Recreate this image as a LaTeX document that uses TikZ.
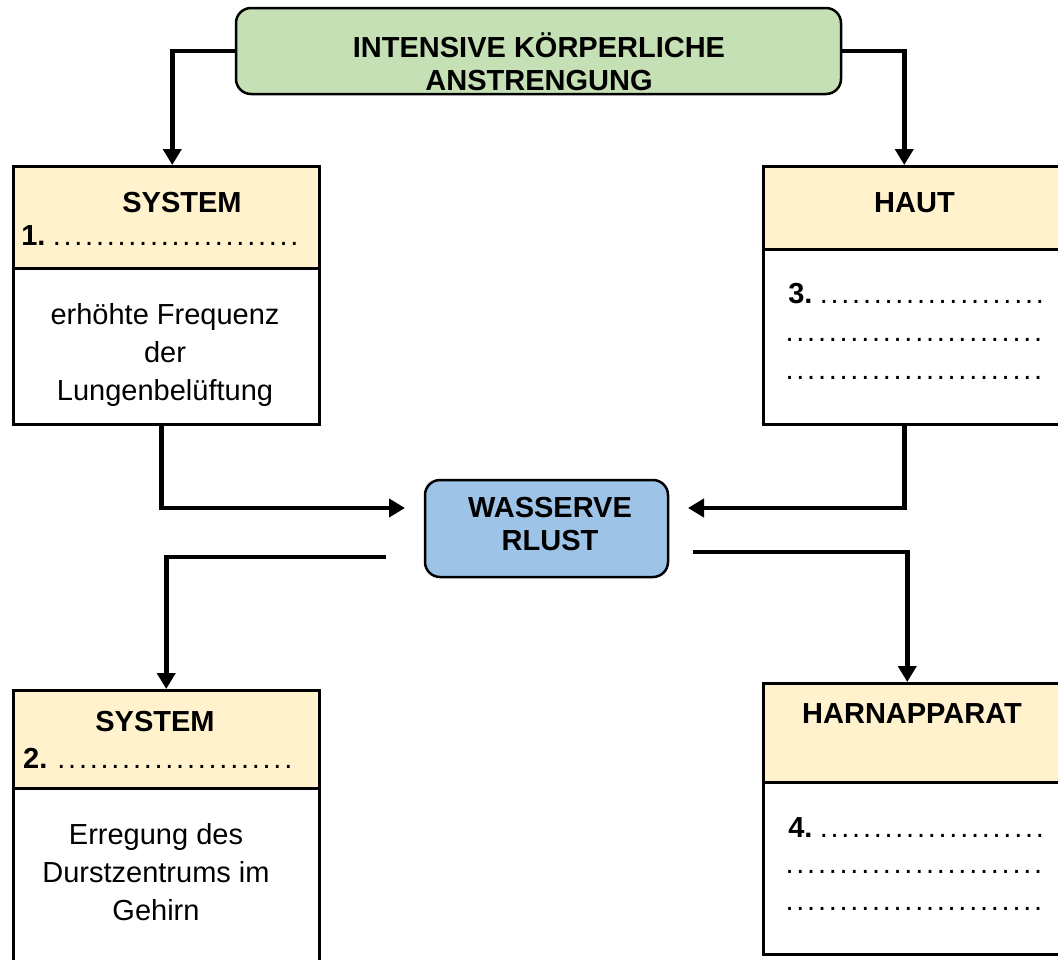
\documentclass[tikz,border=0pt]{standalone}
\usepackage{fontspec}
\setmainfont{Liberation Sans}
\usetikzlibrary{arrows.meta}

\definecolor{gruen}{HTML}{C5E0B4}
\definecolor{blau}{HTML}{9DC3E6}
\definecolor{gelb}{HTML}{FFF2CC}
\newcommand{\punkte}[1]{\foreach \i in {1,...,#1}{\makebox[10.8pt]{.}}}

\begin{document}
\begin{tikzpicture}[x=1pt, y=-1pt, line width=2.5pt,
    font=\fontsize{29}{38}\selectfont,
    fett/.style={font=\fontsize{29}{33}\selectfont\bfseries, inner sep=0pt},
    zeile/.style={anchor=base west, inner sep=0pt},
    rund/.style={draw, rounded corners=15pt, inner sep=0pt},
    kopf/.style={draw, fill=gelb, anchor=north west, minimum width=306pt, inner sep=0pt},
    feld/.style={draw, fill=white, anchor=north west, minimum width=306pt, inner sep=0pt},
    pfeil/.style={line width=4.5pt, -{Triangle[width=18pt,length=16pt]}}]
  \useasboundingbox (0,0) rectangle (1058,959);
  \clip (0,0) rectangle (1058,959);

  \node[rund, fill=gruen, minimum width=605pt, minimum height=86pt] (korper) at (538.5,51) {};
  \node[fett, anchor=base, align=center] (korpertxt) at (539,90) {INTENSIVE KÖRPERLICHE\\ANSTRENGUNG};

  \node[rund, fill=blau, minimum width=243pt, minimum height=97pt] (wasser) at (546.5,528.5) {};
  \node[fett, anchor=base, align=center] (wassertxt) at (550,550) {WASSERVE\\RLUST};

  \node[kopf, minimum height=102pt] (sys1) at (12,165) {};
  \node[feld, minimum height=156pt] (sys1b) at (12,267) {};
  \node[fett, anchor=base] (sys1txt) at (182,212) {SYSTEM};
  \node[zeile] (nr1) at (20,245) {\textbf{1.}\hspace{6pt}\punkte{23}};
  \node[anchor=base, align=center, inner sep=0pt] (lunge) at (165,400) {erhöhte Frequenz\\der\\Lungenbelüftung};

  \node[kopf, minimum width=300pt, minimum height=83pt] (haut) at (762,165) {};
  \node[feld, minimum width=300pt, minimum height=175pt] (hautb) at (762,248) {};
  \node[fett, anchor=base] (hauttxt) at (914.5,212) {HAUT};
  \node[zeile] (nr3) at (787,303) {\textbf{3.}\hspace{6pt}\punkte{21}};
  \node[zeile] (nr3b) at (783,341) {\punkte{24}};
  \node[zeile] (nr3c) at (783,379) {\punkte{24}};

  \node[kopf, minimum height=98pt] (sys2) at (12,689) {};
  \node[feld, minimum height=200pt] (sys2b) at (12,787) {};
  \node[fett, anchor=base] (sys2txt) at (155,731) {SYSTEM};
  \node[zeile] (nr2) at (22,768) {\textbf{2.}\hspace{8.6pt}\punkte{22}};
  \node[anchor=base, align=center, inner sep=0pt] (durst) at (156,920) {Erregung des\\Durstzentrums im\\Gehirn};

  \node[kopf, minimum width=300pt, minimum height=99pt] (harn) at (762,682) {};
  \node[feld, minimum width=300pt, minimum height=172pt] (harnb) at (762,781) {};
  \node[fett, anchor=base] (harntxt) at (912,723) {HARNAPPARAT};
  \node[zeile] (nr4) at (787,837) {\textbf{4.}\hspace{6pt}\punkte{21}};
  \node[zeile] (nr4b) at (783,873) {\punkte{24}};
  \node[zeile] (nr4c) at (783,910) {\punkte{24}};

  \coordinate (in1) at (405,508);
  \coordinate (in3) at (688,508);
  \coordinate (aus2) at (386,557);
  \coordinate (aus4) at (693,552);

  \draw[pfeil] (korper.west) -| ([xshift=6pt]sys1.north);
  \draw[pfeil] (korper.east) -| ([xshift=-9pt]haut.north);
  \draw[pfeil] ([xshift=-5pt]sys1b.south) |- (in1);
  \draw[pfeil] ([xshift=-9pt]hautb.south) |- (in3);
  \draw[pfeil] (aus2) -| (sys2.north);
  \draw[pfeil] (aus4) -| ([xshift=-6pt]harn.north);
\end{tikzpicture}
\end{document}
